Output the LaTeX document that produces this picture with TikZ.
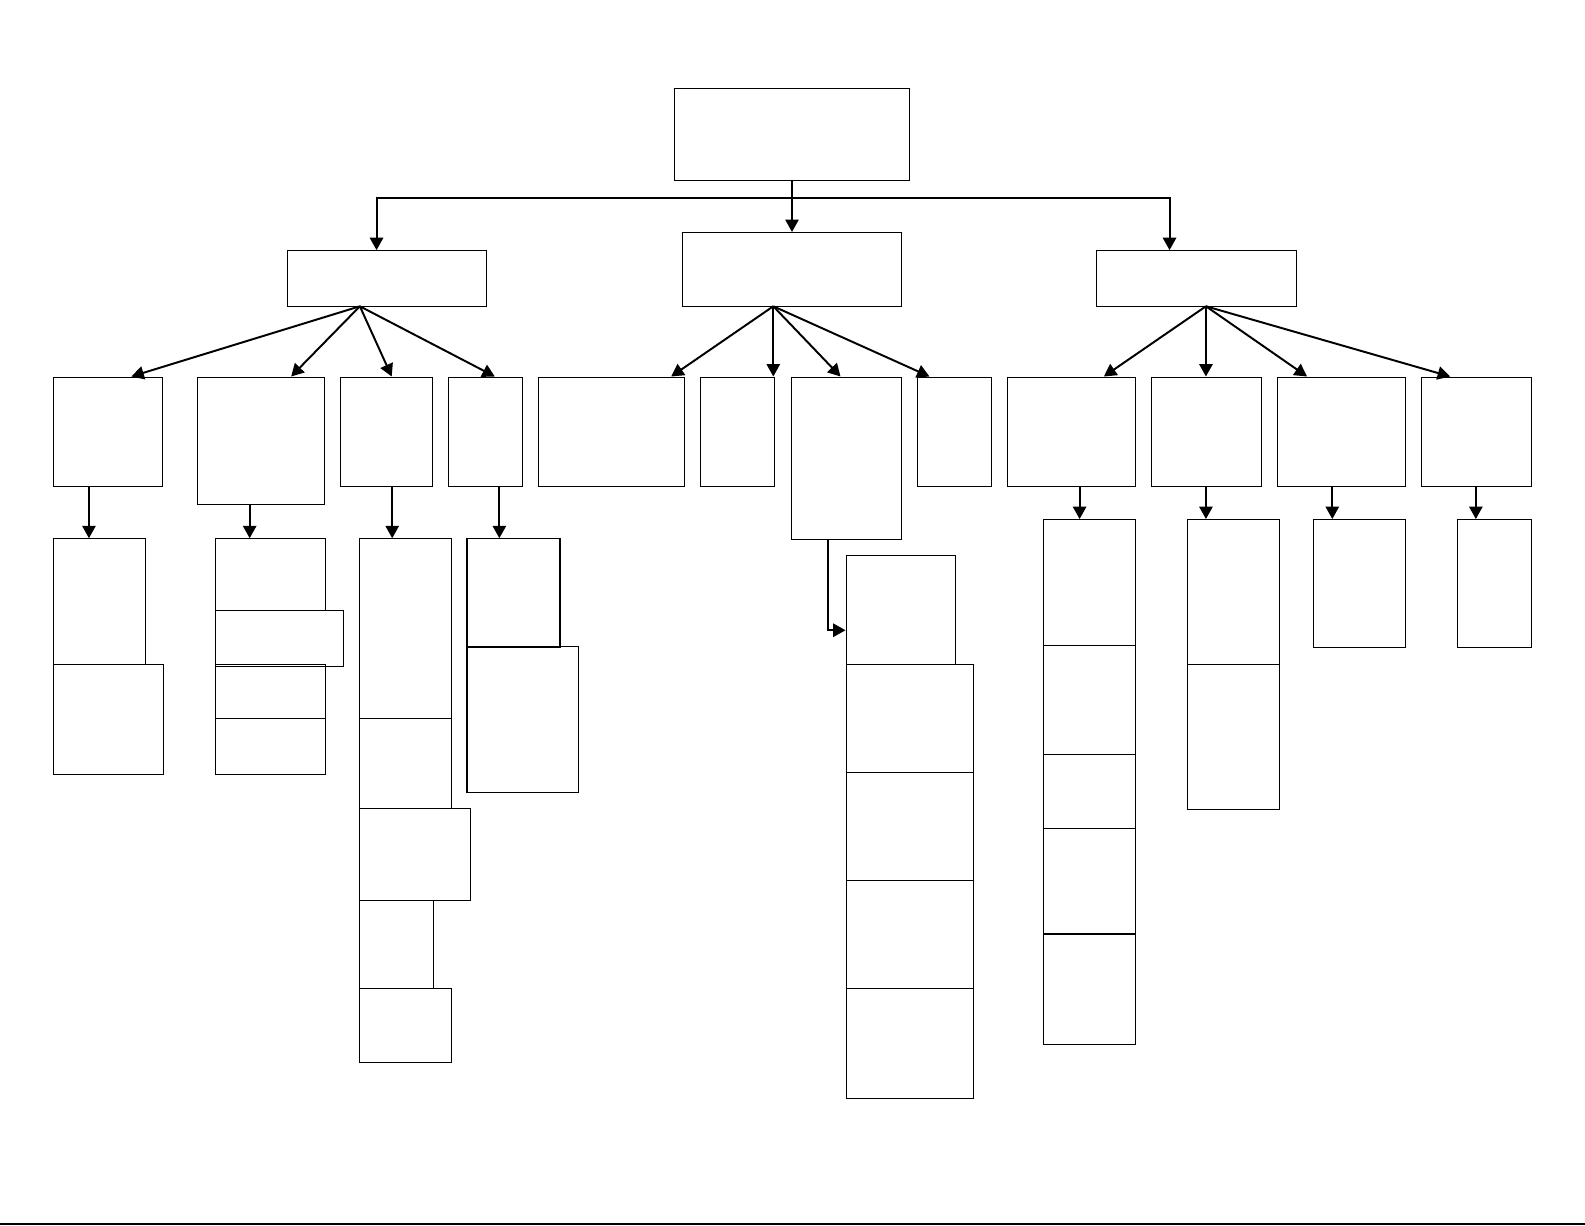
\documentclass[tikz,border=0pt]{standalone}
\usepackage{tikz}
\usetikzlibrary{arrows.meta, positioning, calc, fit}

\begin{document}
\begin{tikzpicture}[
    x=0.02cm, y=-0.02cm,
    box/.style={draw, rectangle, inner sep=0pt, line width=0.6pt},
    arr/.style={-{Triangle[length=7pt, width=7.5pt]}, line width=1.1pt},
    bar/.style={line width=1.1pt},
]
  \useasboundingbox (0,0) rectangle (1568,1212);

  % top and first level
  \node[box, fit={(667,88) (900,179)}]   (root) {};
  \node[box, fit={(284,248) (481,303)}]  (A) {};
  \node[box, fit={(675,230) (892,303)}]  (B) {};
  \node[box, fit={(1085,248) (1283,303)}] (C) {};

  % second level
  \node[box, fit={(53,373) (161,481)}]    (a1) {};
  \node[box, fit={(195,373) (321,499)}]   (a2) {};
  \node[box, fit={(337,373) (428,481)}]   (a3) {};
  \node[box, fit={(444,373) (517,481)}]   (a4) {};
  \node[box, fit={(533,373) (677,481)}]   (b1) {};
  \node[box, fit={(693,373) (766,481)}]   (b2) {};
  \node[box, fit={(783,373) (892,534)}]   (b3) {};
  \node[box, fit={(908,373) (981,481)}]   (b4) {};
  \node[box, fit={(997,373) (1123,481)}]  (c1) {};
  \node[box, fit={(1139,373) (1248,481)}] (c2) {};
  \node[box, fit={(1264,373) (1390,481)}] (c3) {};
  \node[box, fit={(1406,373) (1515,481)}] (c4) {};

  % stacks under a1 .. a4
  \node[box, fit={(53,533) (144,657)}]  (a1p1) {};
  \node[box, fit={(53,657) (162,766)}]  (a1p2) {};
  \node[box, fit={(213,533) (322,604)}] (a2p1) {};
  \node[box, fit={(213,604) (340,659)}] (a2p2) {};
  \node[box, fit={(213,657) (322,711)}] (a2p3) {};
  \node[box, fit={(213,711) (322,766)}] (a2p4) {};
  \node[box, fit={(356,533) (447,711)}] (a3p1) {};
  \node[box, fit={(356,711) (447,800)}] (a3p2) {};
  \node[box, fit={(356,800) (465,891)}] (a3p3) {};
  \node[box, fit={(356,891) (429,978)}] (a3p4) {};
  \node[box, fit={(356,978) (447,1051)}] (a3p5) {};
  \node[box, fit={(462,533) (554,641)}] (a4p1) {};
  \node[box, fit={(462,640) (572,784)}] (a4p2) {};

  % stack under b3
  \node[box, fit={(837,550) (945,657)}]  (b3p1) {};
  \node[box, fit={(837,657) (963,764)}]  (b3p2) {};
  \node[box, fit={(837,764) (963,871)}]  (b3p3) {};
  \node[box, fit={(837,871) (963,978)}]  (b3p4) {};
  \node[box, fit={(837,978) (963,1087)}] (b3p5) {};

  % stacks under c1 .. c4
  \node[box, fit={(1032,514) (1123,639)}]  (c1p1) {};
  \node[box, fit={(1032,639) (1123,746)}]  (c1p2) {};
  \node[box, fit={(1032,746) (1123,820)}]  (c1p3) {};
  \node[box, fit={(1032,820) (1123,924)}]  (c1p4) {};
  \node[box, fit={(1032,924) (1123,1033)}] (c1p5) {};
  \node[box, fit={(1175,514) (1266,657)}]  (c2p1) {};
  \node[box, fit={(1175,657) (1266,801)}]  (c2p2) {};
  \node[box, fit={(1299,514) (1390,641)}]  (c3p1) {};
  \node[box, fit={(1442,514) (1515,641)}]  (c4p1) {};

  % root to first level
  \coordinate (bus) at (root.south |- 0,196);
  \draw[arr] (root.south) -- (root.south |- B.north);
  \draw[arr] (bus) -| ($(A.north)+(-10,0)$);
  \draw[arr] (bus) -| ($(C.north)+(-27,0)$);

  % first to second level
  \coordinate (Ao) at (356,303);
  \draw[arr] (Ao) -- ($(a1.north)+(23,0)$);
  \draw[arr] (Ao) -- ($(a2.north)+(30,0)$);
  \draw[arr] (Ao) -- ($(a3.north)+(5,0)$);
  \draw[arr] (Ao) -- ($(a4.north)+(9,0)$);
  \coordinate (Bo) at (765,303);
  \draw[arr] (Bo) -- ($(b1.north)+(59,0)$);
  \draw[arr] (Bo) -- (Bo |- b2.north);
  \draw[arr] (Bo) -- ($(b3.north)+(-6,0)$);
  \draw[arr] (Bo) -- ($(b4.north)+(-25,0)$);
  \coordinate (Co) at (1193,303);
  \draw[arr] (Co) -- ($(c1.north)+(32,0)$);
  \draw[arr] (Co) -- (Co |- c2.north);
  \draw[arr] (Co) -- ($(c3.north)+(-34,0)$);
  \draw[arr] (Co) -- ($(c4.north)+(-26,0)$);

  % second level to stacks
  \draw[arr] (a1.south -| 88,0)   -- (a1p1.north -| 88,0);
  \draw[arr] (a2.south -| 247,0)  -- (a2p1.north -| 247,0);
  \draw[arr] (a3.south -| 388,0)  -- (a3p1.north -| 388,0);
  \draw[arr] (a4.south -| 494,0)  -- (a4p1.north -| 494,0);
  \draw[arr] (b3.south -| 819,0)  |- ($(b3p1.west)+(0,20)$);
  \draw[arr] (c1.south -| 1068,0) -- (c1p1.north -| 1068,0);
  \draw[arr] (c2.south -| 1193,0) -- (c2p1.north -| 1193,0);
  \draw[arr] (c3.south -| 1318,0) -- (c3p1.north -| 1318,0);
  \draw[arr] (c4.south -| 1460,0) -- (c4p1.north -| 1460,0);

  % page rule
  \coordinate (ruleL) at (0,1210.5);
  \coordinate (ruleR) at (1568,1210.5);
  \draw[bar] (ruleL) -- (ruleR);
\end{tikzpicture}
\end{document}
